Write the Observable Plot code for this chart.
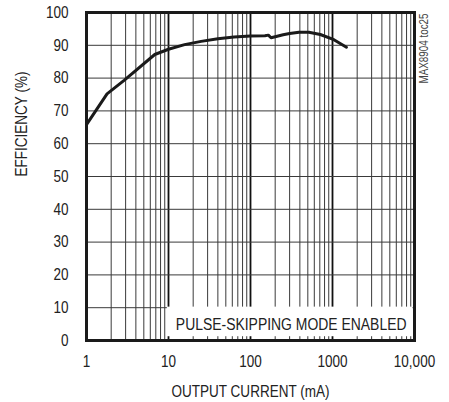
<!DOCTYPE html>
<html>
<head>
<meta charset="utf-8">
<script src="https://cdn.jsdelivr.net/npm/d3@7"></script>
<script src="https://cdn.jsdelivr.net/npm/@observablehq/plot@0.6"></script>
<style>
  html, body { margin: 0; padding: 0; background: #fff; }
  #chart { width: 449px; height: 402px; }
</style>
</head>
<body>
<div id="chart"></div>
<script>
// Efficiency vs output current
const currentMA = [1, 1.78, 2.9, 6.8, 10, 15.7, 25, 40, 63, 100, 150, 165, 178, 200, 250, 300, 390, 515, 710, 1040, 1480];
const efficiency = [65.8, 75.2, 79.4, 87.2, 88.8, 90.2, 91.2, 92.0, 92.5, 92.8, 92.9, 93.1, 92.3, 92.6, 93.2, 93.6, 94.0, 94.0, 93.3, 91.7, 89.4];

const xTicks = [1, 10, 100, 1000, 10000];
const xTickLabels = ["1", "10", "100", "1000", "10,000"];
const yTicks = [0, 10, 20, 30, 40, 50, 60, 70, 80, 90, 100];
const minorMultipliers = [2, 3, 4, 5, 6, 7, 8, 9];
const decadeStarts = [1, 10, 100, 1000];

const annotation = "PULSE-SKIPPING MODE ENABLED";
const figureId = "MAX8904 toc25";
const xLabel = "OUTPUT CURRENT (mA)";
const yLabel = "EFFICIENCY (%)";

const data = currentMA.map((x, i) => ({x, y: efficiency[i]}));
const minorGrid = decadeStarts.flatMap(d => minorMultipliers.map(m => d * m));
const majorGrid = [10, 100, 1000];
const yGrid = yTicks.filter(v => v > 0 && v < 100);

const FONT = '"Liberation Sans", Arial, sans-serif';
const NARROW = 0.82; // condense glyphs to mimic a narrow Helvetica

const chart = Plot.plot({
  width: 449,
  height: 402,
  marginLeft: 86,
  marginRight: 35,
  marginTop: 12,
  marginBottom: 62,
  style: {fontFamily: FONT, fontSize: "16.5px", color: "#222", background: "#fff"},
  x: {type: "log", domain: [1, 10000]},
  y: {domain: [0, 100]},
  marks: [
    Plot.ruleX(minorGrid, {stroke: "#3a3a3a", strokeWidth: 1}),
    Plot.ruleX(majorGrid, {stroke: "#111", strokeWidth: 1.8}),
    Plot.ruleY(yGrid, {stroke: "#3a3a3a", strokeWidth: 1}),
    Plot.text([annotation], {frameAnchor: "bottom-right", text: d => d, dx: -8, dy: -16, textAnchor: "end", lineAnchor: "middle", fontSize: 17, fill: "#222"}),
    Plot.line(data, {x: "x", y: "y", stroke: "#1a1a1a", strokeWidth: 3, strokeLinejoin: "round"}),
    Plot.frame({stroke: "#1a1a1a", strokeWidth: 3}),
    Plot.axisX(xTicks, {tickSize: 0, tickPadding: 15, tickFormat: (d) => xTickLabels[xTicks.indexOf(d)], label: null, fontSize: 16.5}),
    Plot.axisY(yTicks, {tickSize: 0, tickPadding: 18, label: null, fontSize: 16.5}),
    Plot.text([xLabel], {frameAnchor: "bottom", text: d => d, dy: 51, lineAnchor: "middle", fontSize: 16.5}),
    Plot.text([yLabel], {frameAnchor: "left", text: d => d, dx: -65, rotate: -90, lineAnchor: "middle", fontSize: 16.5}),
    Plot.text([figureId], {frameAnchor: "top-right", text: d => d, dx: 10, dy: 1, rotate: -90, textAnchor: "end", lineAnchor: "middle", fontSize: 12, fill: "#444"})
  ]
});

document.getElementById("chart").appendChild(chart);

// Condense every text horizontally (narrow-font look) by scaling about its anchor
for (const t of chart.querySelectorAll("text")) {
  const x = +(t.getAttribute("x") || 0);
  const y = +(t.getAttribute("y") || 0);
  let tr = t.getAttribute("transform") || "";
  if (x || y) {
    tr = `${tr} translate(${x},${y})`;
    t.removeAttribute("x");
    t.removeAttribute("y");
  }
  t.setAttribute("transform", `${tr} scale(${NARROW},1)`.trim());
}

// White backing box behind the annotation, sized from the rendered text
for (const t of chart.querySelectorAll("text")) {
  if (t.textContent === annotation) {
    const b = t.getBBox();
    const m = chart.getScreenCTM().inverse().multiply(t.getScreenCTM());
    const p1 = new DOMPoint(b.x, b.y).matrixTransform(m);
    const p2 = new DOMPoint(b.x + b.width, b.y + b.height).matrixTransform(m);
    const rect = document.createElementNS("http://www.w3.org/2000/svg", "rect");
    rect.setAttribute("x", Math.min(p1.x, p2.x) - 9);
    rect.setAttribute("y", Math.min(p1.y, p2.y) - 8);
    rect.setAttribute("width", Math.abs(p2.x - p1.x) + 15);
    rect.setAttribute("height", Math.abs(p2.y - p1.y) + 11);
    rect.setAttribute("fill", "#fff");
    const g = t.closest("g");
    g.parentNode.insertBefore(rect, g);
    break;
  }
}
</script>
</body>
</html>
